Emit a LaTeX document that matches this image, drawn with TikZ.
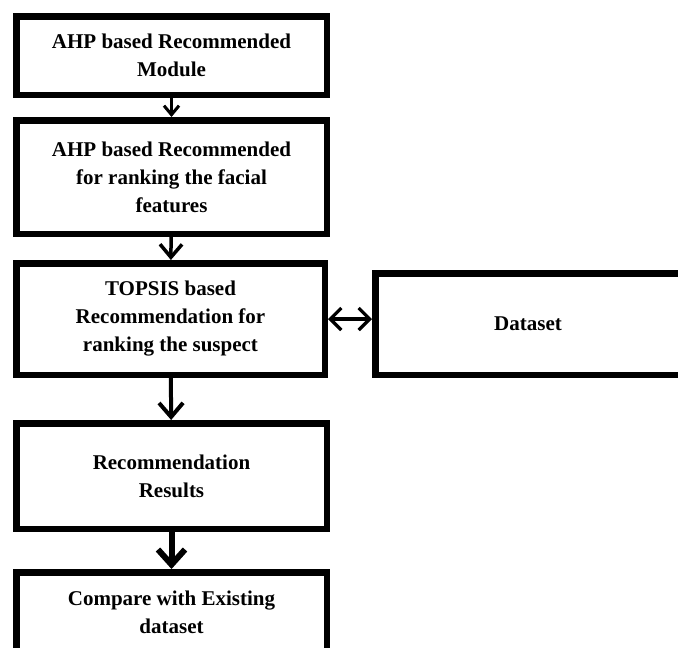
\documentclass[tikz,border=0pt]{standalone}
\usepackage{fontspec}
\setmainfont{Liberation Serif}
\usetikzlibrary{shapes,arrows.meta,positioning}

\begin{document}
\begin{tikzpicture}[x=1pt, y=-1pt, >=Straight Barb]
                    % Define styles
                    \tikzstyle{module} = [rectangle, draw, line width=6.5pt, inner sep=0pt, align=center, minimum width=310.5pt, font=\fontsize{21}{28}\selectfont\bfseries]
                    \tikzstyle{line} = [draw, ->]
                    \useasboundingbox (0,0) rectangle (678,648);

                    % Main column of modules, top to bottom
                    \node [module, minimum height=78.5pt] (ahp_module) at (171.5,55.5) {AHP based Recommended\\Module};
                    \node [module, minimum height=113.5pt] (ahp_rank) at (171.5,177) {AHP based Recommended\\for ranking the facial\\features};
                    \node [module, minimum width=308.5pt, minimum height=111.5pt] (topsis) at (170.5,319) {TOPSIS based\\Recommendation for\\ranking the suspect};
                    \node [module, minimum height=105.5pt] (results) at (171.5,476) {Recommendation\\Results};
                    \node [module, minimum height=79.5pt] (compare) at (171.5,612) {Compare with Existing\\dataset};
                    % Dataset beside the TOPSIS step
                    \node [module, minimum width=305.5pt, minimum height=101.5pt] (dataset) at (528,324) {Dataset};

                    % Arrows down the column
                    \draw [line, line width=3pt, -{Straight Barb[length=9pt, width=15pt]}] (ahp_module) -- (ahp_rank);
                    \draw [line, line width=3.5pt, -{Straight Barb[length=13pt, width=22pt]}] (ahp_rank) -- (topsis);
                    \draw [line, line width=4pt, -{Straight Barb[length=14pt, width=24pt]}] (topsis) -- (results);
                    \draw [line, line width=6pt, -{Straight Barb[length=15pt, width=27pt]}] (results) -- (compare);
                    % Two-way link with the dataset
                    \draw [line, line width=3.2pt, {Straight Barb[length=11pt, width=22pt]}-{Straight Barb[length=11pt, width=22pt]}] (topsis.east) -- (topsis.east -| dataset.west);
                \end{tikzpicture}
\end{document}
